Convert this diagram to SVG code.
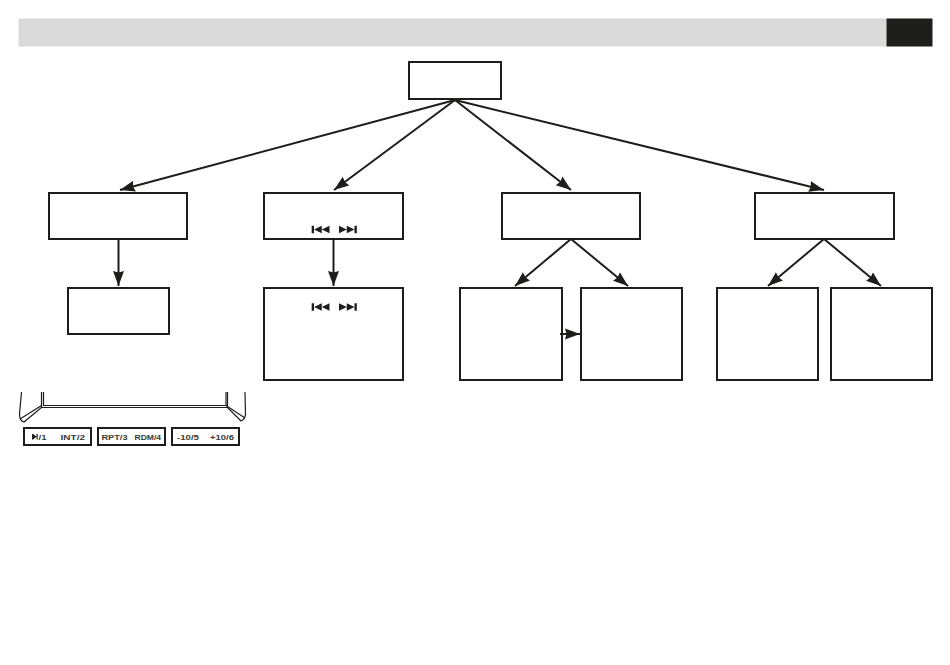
<svg xmlns="http://www.w3.org/2000/svg" width="950" height="665" viewBox="0 0 950 665">
<style>
.b{fill:#fff;stroke:#1d1d1b;stroke-width:2}
.c{fill:none;stroke:#1d1d1b;stroke-width:2}
.d{fill:none;stroke:#1d1d1b;stroke-width:1.200}
.k{fill:#fff;stroke:#1d1d1b;stroke-width:2}
.t{font-family:"Liberation Sans",Arial,sans-serif;font-size:7px;font-weight:bold;fill:#3a3a3a}
.i{fill:#1d1d1b}
</style>
<defs>
<marker id="a" markerUnits="userSpaceOnUse" markerWidth="16" markerHeight="12" refX="15" refY="6" orient="auto"><path d="M0 0.500L15 6L0 11.500L1.500 6Z" fill="#1d1d1b"/></marker>
<path id="ff" d="M0 -3.200L5 0V-3.200L10 0L10 -3.200H11.500V3.200H10V0L5 3.200V0L0 3.200Z"/>
</defs>
<g id="header">
<rect x="18.500" y="18.500" width="868" height="28" fill="#dadada"/>
<rect x="886.500" y="18.500" width="46" height="28" fill="#1d1d1b"/>
</g>
<g id="root"><rect class="b" x="409" y="62" width="92" height="37"/></g>
<g id="n1"><rect class="b" x="49" y="193" width="138" height="46"/></g>
<g id="n2"><rect class="b" x="264" y="193" width="139" height="46"/>
<use href="#ff" class="i" transform="translate(329.500 229.500) scale(-1.550 1.150)"/><use href="#ff" class="i" transform="translate(339 229.500) scale(1.550 1.150)"/></g>
<g id="n3"><rect class="b" x="502" y="193" width="138" height="46"/></g>
<g id="n4"><rect class="b" x="755" y="193" width="139" height="46"/></g>
<g id="n5"><rect class="b" x="68" y="288" width="101" height="46"/></g>
<g id="n6"><rect class="b" x="264" y="288" width="139" height="92"/>
<use href="#ff" class="i" transform="translate(329.500 307) scale(-1.550 1.150)"/><use href="#ff" class="i" transform="translate(339 307) scale(1.550 1.150)"/></g>
<g id="n7"><rect class="b" x="460" y="288" width="102" height="92"/></g>
<g id="n8"><rect class="b" x="581" y="288" width="101" height="92"/></g>
<g id="n9"><rect class="b" x="717" y="288" width="101" height="92"/></g>
<g id="n10"><rect class="b" x="831" y="288" width="101" height="92"/></g>
<g id="connectors">
<path class="c" marker-end="url(#a)" d="M455 100L120 190"/>
<path class="c" marker-end="url(#a)" d="M455 100L334 190"/>
<path class="c" marker-end="url(#a)" d="M455 100L571 190"/>
<path class="c" marker-end="url(#a)" d="M455 100L824 190"/>
<path class="c" marker-end="url(#a)" d="M118.500 239V286"/>
<path class="c" marker-end="url(#a)" d="M333.500 239V286"/>
<path class="c" marker-end="url(#a)" d="M571 239L515 286"/>
<path class="c" marker-end="url(#a)" d="M571 239L628 286"/>
<path class="c" marker-end="url(#a)" d="M824 239L768 286"/>
<path class="c" marker-end="url(#a)" d="M824 239L881 286"/>
<path class="c" marker-end="url(#a)" d="M560 334H580"/>
</g>
<g id="device">
<path class="d" d="M21.500 392L19.500 414Q19.500 421 24 422L41.500 407.500V392"/>
<path class="d" d="M43.500 392V405.500H226V392"/>
<path class="d" d="M41.500 407.500H227.500"/>
<path class="d" d="M20 419L41.500 405.500"/>
<path class="d" d="M227.500 392V407.500L241 421Q245.500 419 245.500 414L245 392"/>
<path class="d" d="M226 405.500L245 418"/>
</g>
<g id="key1"><rect class="k" x="24" y="428" width="67" height="17"/>
<path class="i" d="M32 434H33.200V439.500H32ZM33.200 434L36.500 436.700L33.200 439.500ZM36.500 434H37.700V439.500H36.500Z"/>
<text class="t" x="38.500" y="439.500" textLength="8" lengthAdjust="spacingAndGlyphs">/1</text><text class="t" x="60.500" y="439.500" textLength="24.500" lengthAdjust="spacingAndGlyphs">INT/2</text></g>
<g id="key2"><rect class="k" x="98" y="428" width="67" height="17"/>
<text class="t" x="101.500" y="439.500" textLength="26" lengthAdjust="spacingAndGlyphs">RPT/3</text><text class="t" x="134.500" y="439.500" textLength="26.500" lengthAdjust="spacingAndGlyphs">RDM/4</text></g>
<g id="key3"><rect class="k" x="172" y="428" width="67" height="17"/>
<text class="t" x="177" y="439.500" textLength="22" lengthAdjust="spacingAndGlyphs">-10/5</text><text class="t" x="210" y="439.500" textLength="24" lengthAdjust="spacingAndGlyphs">+10/6</text></g>
</svg>
